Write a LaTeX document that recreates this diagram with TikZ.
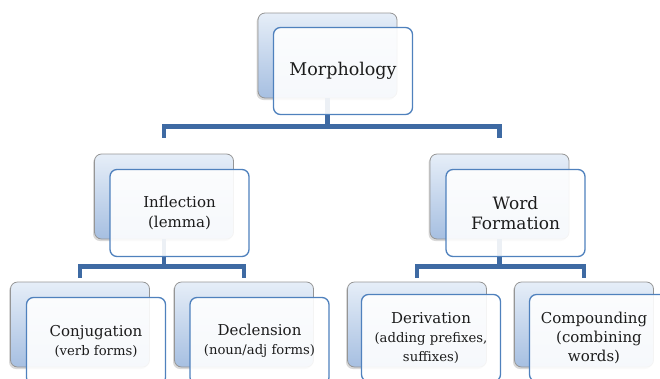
\documentclass[tikz,border=0pt]{standalone}
\usepackage{fontspec}
\setmainfont{DejaVu Serif}
\usetikzlibrary{calc,shadows}
\definecolor{conn}{HTML}{3E6AA3}
\definecolor{frontline}{HTML}{4F81BD}
\definecolor{backline}{HTML}{959595}
\definecolor{backtop}{HTML}{E6EEF8}
\definecolor{backbot}{HTML}{A6BFE1}
\definecolor{txt}{HTML}{1C1C1C}
\newcommand{\headfont}{\fontsize{15}{19}\selectfont}
\newcommand{\notefont}{\fontsize{13.2}{17}\selectfont}
\begin{document}
\begin{tikzpicture}
		[	x=1pt,y=-1pt,
		back/.style={rectangle,rounded corners=7pt,draw=backline,line width=.8pt,top color=backtop,bottom color=backbot,minimum width=139pt,minimum height=85pt,drop shadow={shadow xshift=-1.5pt,shadow yshift=-2pt,opacity=.3}},
		front/.style={rectangle,rounded corners=7pt,draw=frontline,line width=1.3pt,fill=white,fill opacity=.9,text opacity=1,text=txt,minimum width=139pt,minimum height=87pt,align=center,inner sep=2pt},
		link/.style={draw=conn,line width=4.5pt}
		]
		\useasboundingbox (0,0) rectangle (660,378);
		% back boxes
		\node[back] (morphB) at (327.5,55.5){};
		\node[back] (inflB) at (164,196.5){};
		\node[back] (wfB) at (499.5,196.5){};
		\node[back] (conjB) at (80,324.5){};
		\node[back] (declB) at (244,324.5){};
		\node[back] (derivB) at (417,324.5){};
		\node[back] (compB) at (584,324.5){};
		% connectors
		\coordinate (topbar) at ($(morphB.south)+(0,28)$);
		\coordinate (inflbar) at ($(inflB.south)+(0,27)$);
		\coordinate (wfbar) at ($(wfB.south)+(0,27)$);
		\draw[link] (morphB.south) -- (topbar);
		\draw[link] ($(inflB.north)+(0,-16)$) |- (topbar) -| ($(wfB.north)+(0,-16)$);
		\draw[link] (inflB.south) -- (inflbar);
		\draw[link] ($(conjB.north)+(0,-4)$) |- (inflbar) -| ($(declB.north)+(0,-4)$);
		\draw[link] (wfB.south) -- (wfbar);
		\draw[link] ($(derivB.north)+(0,-4)$) |- (wfbar) -| ($(compB.north)+(0,-4)$);
		% front boxes
		\node[front,font=\fontsize{17.5}{21}\selectfont] (morph) at (343,71){Morphology};
		\node[front,font=\fontsize{15}{20}\selectfont] (infl) at (179.5,213){Inflection\\(lemma)};
		\node[front,font=\fontsize{17}{20}\selectfont] (wf) at (515.5,213){Word\\Formation};
		\node[front,font=\headfont] (conj) at (96,341){Conjugation\\{\notefont(verb forms)}};
		\node[front,font=\headfont] (decl) at (259.5,341){Declension\\{\notefont(noun/adj forms)}};
		\node[front,font=\headfont] (deriv) at (431,338){Derivation\\{\notefont(adding prefixes,}\\{\notefont suffixes)}};
		\node[front,font=\headfont] (comp) at (599,338){Compounding\hspace*{10pt}\\(combining\hspace*{10pt}\\words)\hspace*{10pt}};
\end{tikzpicture}
\end{document}
